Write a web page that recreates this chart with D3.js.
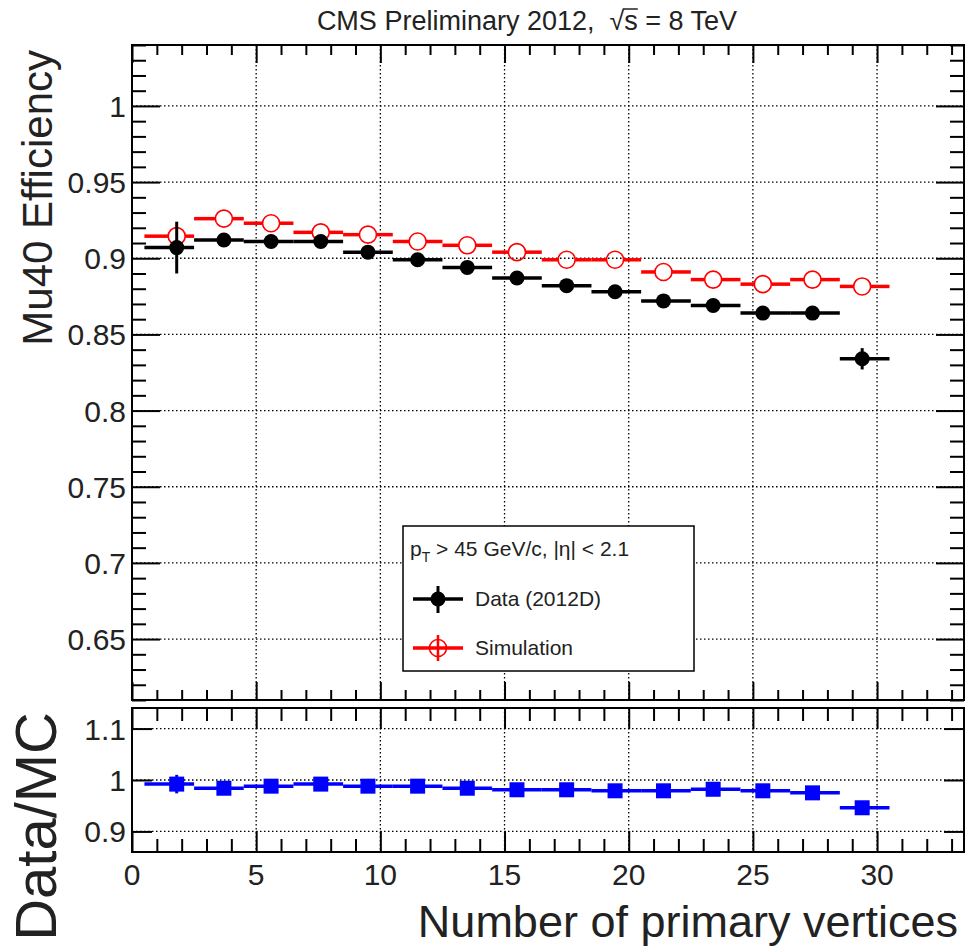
<!DOCTYPE html>
<html>
<head>
<meta charset="utf-8">
<script src="https://cdn.jsdelivr.net/npm/d3@7/dist/d3.min.js"></script>
<style>
  body { margin: 0; background: #fff; }
  svg { display: block; font-family: "Liberation Sans", Arial, sans-serif; }
</style>
</head>
<body>
<div id="chart"></div>
<script>
// bins in number of primary vertices (width 2)
const binLo = [0.5, 2.5, 4.5, 6.5, 8.5, 10.5, 12.5, 14.5, 16.5, 18.5, 20.5, 22.5, 24.5, 26.5, 28.5];
const binHi = [2.5, 4.5, 6.5, 8.5, 10.5, 12.5, 14.5, 16.5, 18.5, 20.5, 22.5, 24.5, 26.5, 28.5, 30.5];
const nvtxMean = [1.8, 3.7, 5.6, 7.6, 9.5, 11.5, 13.5, 15.5, 17.5, 19.45, 21.4, 23.4, 25.4, 27.4, 29.4];

const dataEff = [0.907, 0.912, 0.911, 0.911, 0.904, 0.899, 0.894, 0.887, 0.882, 0.878, 0.872, 0.869, 0.864, 0.864, 0.834];
const dataErr = [0.017, 0.003, 0.002, 0.002, 0.002, 0.002, 0.002, 0.002, 0.002, 0.002, 0.002, 0.003, 0.003, 0.004, 0.007];
const simEff = [0.9145, 0.926, 0.923, 0.917, 0.9155, 0.911, 0.9085, 0.904, 0.899, 0.899, 0.891, 0.886, 0.883, 0.886, 0.8815];
const ratio = [0.992, 0.984, 0.988, 0.992, 0.988, 0.988, 0.984, 0.981, 0.981, 0.979, 0.979, 0.982, 0.979, 0.975, 0.946];
const ratioErr = [0.018, 0.006, 0.005, 0.005, 0.005, 0.005, 0.005, 0.005, 0.005, 0.005, 0.005, 0.006, 0.006, 0.007, 0.008];

const xTicks = [0, 5, 10, 15, 20, 25, 30];
const effTicks = [0.65, 0.7, 0.75, 0.8, 0.85, 0.9, 0.95, 1];
const ratioTicks = [0.9, 1, 1.1];

const W = 966, H = 947;
const L = 132, R = 964;
const top1 = 45, bot1 = 700, top2 = 708, bot2 = 852;

const svg = d3.select("#chart").append("svg").attr("width", W).attr("height", H);

const x = d3.scaleLinear().domain([0, 33.5]).range([L, R]);
const yEff = d3.scaleLinear().domain([0.61, 1.04]).range([bot1, top1]);
const yRat = d3.scaleLinear().domain([0.86, 1.14]).range([bot2, top2]);

function grid(g, y, yt, y0, y1) {
  g.selectAll(".gh").data(yt).enter().append("line")
    .attr("x1", L).attr("x2", R).attr("y1", d => y(d)).attr("y2", d => y(d))
    .attr("stroke", "#000").attr("stroke-width", 1.3).attr("stroke-dasharray", "1.5,2.5");
  g.selectAll(".gv").data(xTicks.filter(d => d > 0)).enter().append("line")
    .attr("x1", d => x(d)).attr("x2", d => x(d)).attr("y1", y0).attr("y2", y1)
    .attr("stroke", "#000").attr("stroke-width", 1.3).attr("stroke-dasharray", "1.5,2.5");
}

function ticks(g, y, major, minor, y0, y1, xMaj, xMin, yMaj, yMin, labelsX) {
  // left / right
  g.append("g").attr("transform", `translate(${L},0)`)
    .call(d3.axisRight(y).tickValues(major).tickSize(yMaj).tickFormat(""));
  g.append("g").attr("transform", `translate(${R},0)`)
    .call(d3.axisLeft(y).tickValues(major).tickSize(yMaj).tickFormat(""));
  if (minor) {
    g.append("g").attr("transform", `translate(${L},0)`)
      .call(d3.axisRight(y).tickValues(minor).tickSize(yMin).tickFormat(""));
    g.append("g").attr("transform", `translate(${R},0)`)
      .call(d3.axisLeft(y).tickValues(minor).tickSize(yMin).tickFormat(""));
  }
  // top / bottom
  let xmin = x.ticks(33).filter(d => xTicks.indexOf(d) < 0);
  g.append("g").attr("transform", `translate(0,${y0})`)
    .call(d3.axisBottom(x).tickValues(xTicks).tickSize(xMaj).tickFormat(""));
  g.append("g").attr("transform", `translate(0,${y0})`)
    .call(d3.axisBottom(x).tickValues(xmin).tickSize(xMin).tickFormat(""));
  g.append("g").attr("transform", `translate(0,${y1})`)
    .call(d3.axisTop(x).tickValues(xTicks).tickSize(xMaj).tickFormat(""));
  g.append("g").attr("transform", `translate(0,${y1})`)
    .call(d3.axisTop(x).tickValues(xmin).tickSize(xMin).tickFormat(""));
  g.selectAll(".domain").remove();
  g.selectAll(".tick line").attr("stroke", "#000").attr("stroke-width", 2);

  g.selectAll(".ylab").data(major).enter().append("text")
    .attr("x", 126).attr("y", d => y(d) + 11)
    .attr("text-anchor", "end").attr("font-size", 30).attr("fill", "#222")
    .text(d => String(d));
  if (labelsX) {
    g.selectAll(".xlab").data(xTicks).enter().append("text")
      .attr("x", d => x(d)).attr("y", y1 + 33)
      .attr("text-anchor", "middle").attr("font-size", 30).attr("fill", "#222")
      .text(d => d);
  }
  g.append("rect").attr("x", L).attr("y", y0).attr("width", R - L).attr("height", y1 - y0)
    .attr("fill", "none").attr("stroke", "#000").attr("stroke-width", 2);
}

// ---------- upper pad ----------
const up = svg.append("g");
grid(up, yEff, effTicks, top1, bot1);
ticks(up, yEff, effTicks, yEff.ticks(40).filter(d => effTicks.every(t => Math.abs(t - d) > 1e-6)),
  top1, bot1, 18, 10, 28, 14, false);

// simulation (open red circles, bars stop at the marker)
const rSim = 8.5;
const sim = up.append("g");
simEff.forEach((v, i) => {
  let cx = x(nvtxMean[i]), cy = yEff(v);
  sim.append("line").attr("x1", x(binLo[i])).attr("x2", cx - rSim).attr("y1", cy).attr("y2", cy)
    .attr("stroke", "#ff0000").attr("stroke-width", 3.5);
  sim.append("line").attr("x1", cx + rSim).attr("x2", x(binHi[i])).attr("y1", cy).attr("y2", cy)
    .attr("stroke", "#ff0000").attr("stroke-width", 3.5);
  sim.append("circle").attr("cx", cx).attr("cy", cy).attr("r", rSim)
    .attr("fill", "none").attr("stroke", "#ff0000").attr("stroke-width", 1.6);
});

// data (filled black circles)
const dat = up.append("g");
dataEff.forEach((v, i) => {
  let cx = x(nvtxMean[i]), cy = yEff(v);
  dat.append("line").attr("x1", x(binLo[i])).attr("x2", x(binHi[i])).attr("y1", cy).attr("y2", cy)
    .attr("stroke", "#000").attr("stroke-width", 3.5);
  dat.append("line").attr("x1", cx).attr("x2", cx)
    .attr("y1", yEff(v + dataErr[i])).attr("y2", yEff(v - dataErr[i]))
    .attr("stroke", "#000").attr("stroke-width", 3);
  dat.append("circle").attr("cx", cx).attr("cy", cy).attr("r", 7.5).attr("fill", "#000");
});

// legend
const lg = up.append("g");
lg.append("rect").attr("x", 403).attr("y", 526).attr("width", 291).attr("height", 145)
  .attr("fill", "#fff").attr("stroke", "#000").attr("stroke-width", 1.5);
const ht = lg.append("text").attr("x", 410).attr("y", 556).attr("font-size", 21).attr("fill", "#222");
ht.append("tspan").text("p");
ht.append("tspan").attr("font-size", 14).attr("dy", 6).text("T");
ht.append("tspan").attr("dy", -6).attr("xml:space", "preserve").text(" > 45 GeV/c, |η| < 2.1");

lg.append("line").attr("x1", 413).attr("x2", 463).attr("y1", 599).attr("y2", 599)
  .attr("stroke", "#000").attr("stroke-width", 3.5);
lg.append("line").attr("x1", 438).attr("x2", 438).attr("y1", 586).attr("y2", 613)
  .attr("stroke", "#000").attr("stroke-width", 3);
lg.append("circle").attr("cx", 438).attr("cy", 599).attr("r", 7.5).attr("fill", "#000");
lg.append("text").attr("x", 475).attr("y", 606).attr("font-size", 21).attr("fill", "#222").text("Data (2012D)");

lg.append("line").attr("x1", 413).attr("x2", 463).attr("y1", 648).attr("y2", 648)
  .attr("stroke", "#ff0000").attr("stroke-width", 3.5);
lg.append("line").attr("x1", 438).attr("x2", 438).attr("y1", 635).attr("y2", 661)
  .attr("stroke", "#ff0000").attr("stroke-width", 2.5);
lg.append("circle").attr("cx", 438).attr("cy", 648).attr("r", rSim)
  .attr("fill", "none").attr("stroke", "#ff0000").attr("stroke-width", 1.6);
lg.append("text").attr("x", 475).attr("y", 655).attr("font-size", 21).attr("fill", "#222").text("Simulation");

// ---------- lower pad ----------
const lo = svg.append("g");
grid(lo, yRat, ratioTicks, top2, bot2);
ticks(lo, yRat, ratioTicks, null, top2, bot2, 21, 13, 20, 0, true);

const rat = lo.append("g");
ratio.forEach((v, i) => {
  let cx = x(nvtxMean[i]), cy = yRat(v);
  rat.append("line").attr("x1", x(binLo[i])).attr("x2", x(binHi[i])).attr("y1", cy).attr("y2", cy)
    .attr("stroke", "#0000ff").attr("stroke-width", 3.5);
  rat.append("line").attr("x1", cx).attr("x2", cx)
    .attr("y1", yRat(v + ratioErr[i])).attr("y2", yRat(v - ratioErr[i]))
    .attr("stroke", "#0000ff").attr("stroke-width", 3);
  rat.append("rect").attr("x", cx - 7.5).attr("y", cy - 7.5).attr("width", 15).attr("height", 15)
    .attr("fill", "#0000ff");
});

// ---------- titles ----------
svg.append("text").attr("transform", "translate(52,50) rotate(-90)")
  .attr("text-anchor", "end").attr("font-size", 42).attr("fill", "#222").text("Mu40 Efficiency");
svg.append("text").attr("transform", "translate(56,712) rotate(-90)")
  .attr("text-anchor", "end").attr("font-size", 58).attr("fill", "#222").text("Data/MC");
svg.append("text").attr("x", 958).attr("y", 937)
  .attr("text-anchor", "end").attr("font-size", 45).attr("fill", "#222").text("Number of primary vertices");

const title = svg.append("text").attr("x", 527).attr("y", 30).attr("text-anchor", "middle")
  .attr("font-size", 27).attr("fill", "#222").attr("xml:space", "preserve")
  .text("CMS Preliminary 2012,  \u221As = 8 TeV");
// overline on the square-root argument
const str = title.text();
const iS = str.indexOf("\u221A");
const n = title.node();
const eR = n.getExtentOfChar(iS), eS = n.getExtentOfChar(iS + 1);
svg.append("line").attr("x1", eR.x + eR.width - 1).attr("x2", eS.x + eS.width)
  .attr("y1", eR.y + 3).attr("y2", eR.y + 3).attr("stroke", "#222").attr("stroke-width", 1.5);
</script>
</body>
</html>
